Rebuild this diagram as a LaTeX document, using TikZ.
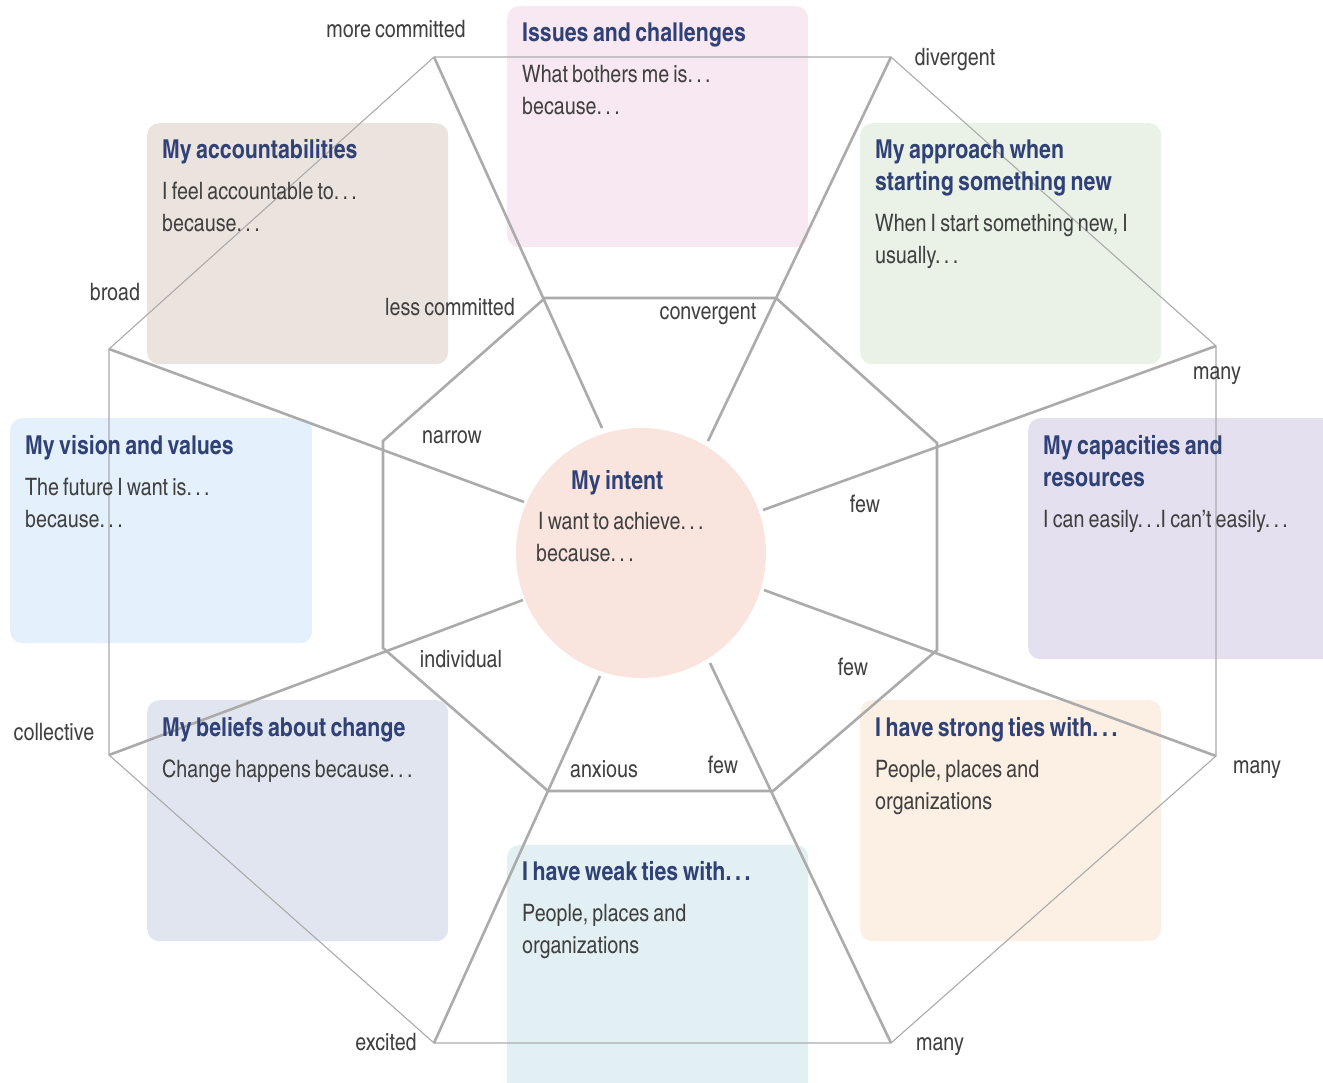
\documentclass[tikz,border=0pt]{standalone}
\usepackage{fontspec}
\setmainfont{texgyreheroscn}[Extension=.otf,UprightFont=*-regular,BoldFont=*-bold,ItalicFont=*-italic,BoldItalicFont=*-bolditalic,WordSpace=0.75]
\definecolor{headblue}{HTML}{2F4177}
\definecolor{bodygray}{HTML}{404040}
\definecolor{linegray}{HTML}{ABABAB}
\definecolor{cpink}{HTML}{F8E8F2}
\definecolor{cbeige}{HTML}{EBE3DE}
\definecolor{cgreen}{HTML}{EAF2E7}
\definecolor{cltblue}{HTML}{E4F1FC}
\definecolor{clav}{HTML}{E4E0EF}
\definecolor{cbluegray}{HTML}{E1E5EF}
\definecolor{cpeach}{HTML}{FCF0E4}
\definecolor{caqua}{HTML}{E2F0F3}
\definecolor{ccirc}{HTML}{F9E5DE}
\newcommand\mydots{.\kern0.14em.\kern0.14em.}
\begin{document}
\begin{tikzpicture}[x=1pt,y=-1pt,
  cbox/.style={fill=#1,draw=none,rounded corners=12pt,anchor=north west,inner sep=0pt,minimum width=301pt,minimum height=241pt},
  heading/.style={anchor=base west,text=headblue,font=\fontsize{26}{30}\selectfont\bfseries,inner sep=0pt},
  body/.style={anchor=base west,text=bodygray,font=\fontsize{24}{30}\selectfont,inner sep=0pt},
  lab/.style={anchor=base,text=bodygray,font=\fontsize{24}{30}\selectfont,inner sep=0pt},
  thickln/.style={draw=linegray,line width=2.6pt},
  thinln/.style={draw=linegray,line width=1.1pt}]
\useasboundingbox (0,0) rectangle (1323,1082);
\clip (0,0) rectangle (1323,1082);
% boxes
\node[cbox=cpink] (b1) at (507,6) {};
\node[cbox=cbeige] (b2) at (147,123) {};
\node[cbox=cgreen] (b3) at (860,123) {};
\node[cbox=cltblue,minimum height=225pt,minimum width=302pt] (b4) at (10,418) {};
\node[cbox=clav,minimum width=320pt] (b5) at (1028,418) {};
\node[cbox=cbluegray] (b6) at (147,700) {};
\node[cbox=cpeach] (b7) at (860,700) {};
\node[cbox=caqua,minimum height=260pt] (b8) at (507,845) {};
% octagon vertices
\coordinate (o1) at (434,57);
\coordinate (o2) at (891,57);
\coordinate (o3) at (1216,346);
\coordinate (o4) at (1216,756);
\coordinate (o5) at (891,1043);
\coordinate (o6) at (434,1043);
\coordinate (o7) at (109,755);
\coordinate (o8) at (109,349);
\coordinate (i1) at (545,298);
\coordinate (i2) at (776,298);
\coordinate (i3) at (937,443);
\coordinate (i4) at (937,650);
\coordinate (i5) at (773,791);
\coordinate (i6) at (548,791);
\coordinate (i7) at (383,648);
\coordinate (i8) at (383,441);
\coordinate (e1) at (602,428);
\coordinate (e2) at (708,441);
\coordinate (e3) at (763,510);
\coordinate (e4) at (764,590);
\coordinate (e5) at (710,663);
\coordinate (e6) at (600,676);
\coordinate (e7) at (523,600);
\coordinate (e8) at (524,502);
% outer octagon
\draw[thinln] (o1) -- (o2) -- (o3) -- (o4) -- (o5) -- (o6) -- (o7) -- (o8) -- cycle;
% inner octagon
\draw[thickln] (i1) -- (i2) -- (i3) -- (i4) -- (i5) -- (i6) -- (i7) -- (i8) -- cycle;
% spokes
\foreach \k in {1,...,8} {\draw[thickln] (o\k) -- (e\k);}
% centre
\node[circle,fill=ccirc,minimum size=250pt,inner sep=0pt] (intent) at (641,553) {};
% texts
\node[heading] (t1h) at (522,41) {Issues and challenges};
\node[body] (t1a) at (522,82) {What bothers me is\mydots};
\node[body] (t1b) at (522,114) {because\mydots};
\node[heading] (t2h) at (162,158) {My accountabilities};
\node[body] (t2a) at (162,199) {I feel accountable to\mydots};
\node[body] (t2b) at (162,231) {because\mydots};
\node[heading] (t3h) at (875,158) {My approach when};
\node[heading] (t3i) at (875,190) {starting something new};
\node[body] (t3a) at (875,231) {When I start something new, I};
\node[body] (t3b) at (875,263) {usually\mydots};
\node[heading] (t4h) at (25,454) {My vision and values};
\node[body] (t4a) at (25,495) {The future I want is\mydots};
\node[body] (t4b) at (25,527) {because\mydots};
\node[heading] (t5h) at (1043,454) {My capacities and};
\node[heading] (t5i) at (1043,486) {resources};
\node[body] (t5a) at (1043,527) {I can easily\mydots I can’t easily\mydots};
\node[heading] (t6h) at (162,736) {My beliefs about change};
\node[body] (t6a) at (162,777) {Change happens because\mydots};
\node[heading] (t7h) at (875,736) {I have strong ties with\mydots};
\node[body] (t7a) at (875,777) {People, places and};
\node[body] (t7b) at (875,809) {organizations};
\node[heading] (t8h) at (522,880) {I have weak ties with\mydots};
\node[body] (t8a) at (522,921) {People, places and};
\node[body] (t8b) at (522,953) {organizations};
\node[heading] (tch) at (571,489) {My intent};
\node[body] (tca) at (538,529) {I want to achieve\mydots};
\node[body] (tcb) at (536,561) {because\mydots};
% labels
\node[lab] (l1) at (396,37) {more committed};
\node[lab] (l2) at (955,65) {divergent};
\node[lab] (l3) at (115,300) {broad};
\node[lab] (l4) at (450,315) {less committed};
\node[lab] (l5) at (708,319) {convergent};
\node[lab] (l6) at (452,443) {narrow};
\node[lab] (l7) at (1217,379) {many};
\node[lab] (l8) at (865,512) {few};
\node[lab] (l9) at (853,675) {few};
\node[lab] (l10) at (1257,773) {many};
\node[lab] (l11) at (54,740) {collective};
\node[lab] (l12) at (461,667) {individual};
\node[lab] (l13) at (604,777) {anxious};
\node[lab] (l14) at (723,773) {few};
\node[lab] (l15) at (386,1050) {excited};
\node[lab] (l16) at (940,1050) {many};
\end{tikzpicture}
\end{document}
